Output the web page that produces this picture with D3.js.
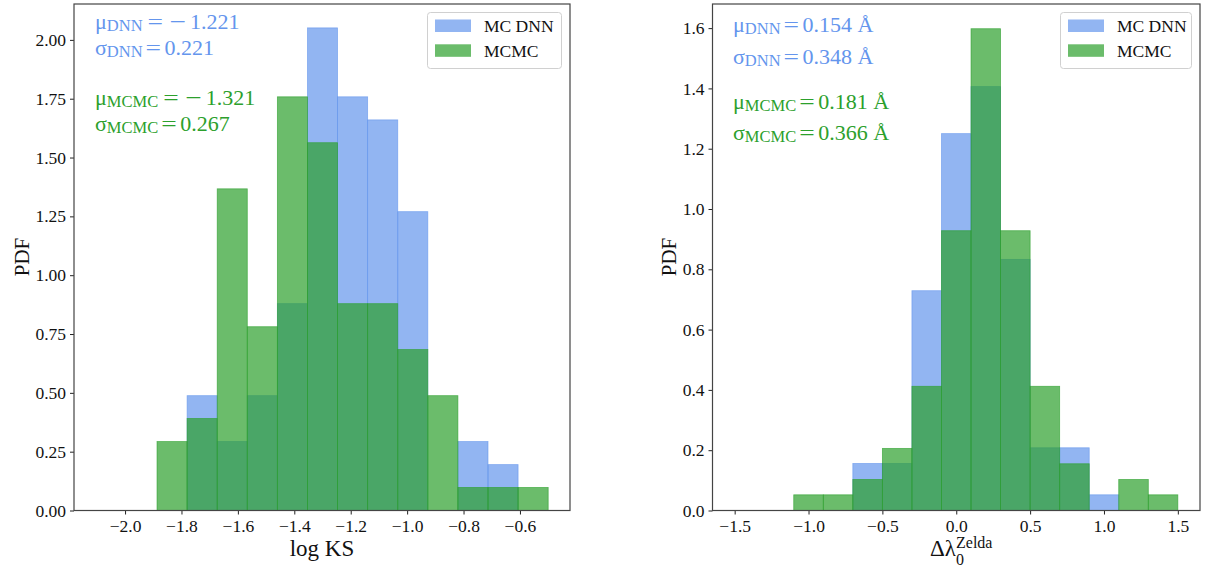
<!DOCTYPE html>
<html><head><meta charset="utf-8">
<script src="https://cdn.jsdelivr.net/npm/d3@7"></script>
<style>
html,body{margin:0;padding:0;background:#fff;}
svg text{font-family:"Liberation Serif","Times New Roman",Times,serif !important;}
</style></head>
<body><svg id="c" width="1211" height="569"></svg>
<script>
// ---------- data ----------
const leftEdges = [-2.1, -1.9933, -1.8867, -1.78, -1.6733, -1.5667, -1.46, -1.3533, -1.2467, -1.14, -1.0333, -0.9267, -0.82, -0.7133, -0.6067, -0.5];
const leftDNN   = [0, 0, 0, 0.488, 0.293, 0.488, 0.879, 2.051, 1.758, 1.660, 1.270, 0, 0.293, 0.195, 0];
const leftMCMC  = [0, 0, 0.293, 0.391, 1.367, 0.781, 1.758, 1.563, 0.879, 0.879, 0.684, 0.488, 0.098, 0.098, 0.098];
const leftXTicks = [-2.0, -1.8, -1.6, -1.4, -1.2, -1.0, -0.8, -0.6];
const leftYTicks = [0, 0.25, 0.5, 0.75, 1.0, 1.25, 1.5, 1.75, 2.0];

const rightEdges = [-1.5, -1.3, -1.1, -0.9, -0.7, -0.5, -0.3, -0.1, 0.1, 0.3, 0.5, 0.7, 0.9, 1.1, 1.3, 1.5];
const rightDNN   = [0, 0, 0, 0, 0.156, 0.156, 0.729, 1.250, 1.406, 0.833, 0.208, 0.208, 0.052, 0, 0];
const rightMCMC  = [0, 0, 0.052, 0.052, 0.103, 0.206, 0.412, 0.928, 1.598, 0.928, 0.412, 0.155, 0, 0.103, 0.052];
const rightXTicks = [-1.5, -1.0, -0.5, 0.0, 0.5, 1.0, 1.5];
const rightYTicks = [0, 0.2, 0.4, 0.6, 0.8, 1.0, 1.2, 1.4, 1.6];

const seriesNames = ["MC DNN", "MCMC"];
// [symbol, subscript, value (negative values get a separate minus), unit]
const leftStats  = [["μ", "DNN", -1.221, ""], ["σ", "DNN", 0.221, ""], ["μ", "MCMC", -1.321, ""], ["σ", "MCMC", 0.267, ""]];
const rightStats = [["μ", "DNN", 0.154, "Å"], ["σ", "DNN", 0.348, "Å"], ["μ", "MCMC", 0.181, "Å"], ["σ", "MCMC", 0.366, "Å"]];

// ---------- styles ----------
const BLUE = "#6495ED", GREEN = "#2ca02c";
const svg = d3.select("#c");

function mathLine(g, x0, y0, s, color) {
  // parts: [text, fontSize, dxGap, baselineOffset, stretchedWidth]
  const parts = [[s[0], 22, 0, 0], [s[1], 16.5, 0, 2]];
  if (s[2] < 0) {
    parts.push(["=", 22, 5, 0, 15.5], ["−", 22, 6.5, 0, 16.5], [Math.abs(s[2]).toFixed(3), 22, 4, 0]);
  } else {
    parts.push(["=", 22, 3, 0, 15.5], [s[2].toFixed(3), 22, 3.5, 0]);
  }
  if (s[3]) parts.push([s[3], 22, 5.5, 0]);
  const t = g.append("text").attr("x", x0).attr("y", y0).attr("fill", color);
  let cur = 0;
  parts.forEach(p => {
    const ts = t.append("tspan").attr("font-size", p[1] + "px").attr("dx", p[2]).attr("dy", p[3] - cur).text(p[0]);
    if (p[4]) ts.attr("textLength", p[4]).attr("lengthAdjust", "spacingAndGlyphs");
    cur = p[3];
  });
}

function panel(cfg) {
  const x = d3.scaleLinear().domain(cfg.xdom).range([cfg.x0, cfg.x1]);
  const y = d3.scaleLinear().domain(cfg.ydom).range([510.5, 4]);
  const g = svg.append("g");

  const drawHist = (vals, color) => {
    g.append("g").selectAll("rect").data(vals).join("rect")
      .attr("x", (d, i) => x(cfg.edges[i]))
      .attr("width", (d, i) => x(cfg.edges[i + 1]) - x(cfg.edges[i]))
      .attr("y", d => y(d))
      .attr("height", d => y(0) - y(d))
      .attr("fill", color).attr("fill-opacity", 0.7)
      .attr("stroke", color).attr("stroke-opacity", 0.7).attr("stroke-width", 0.8);
  };
  drawHist(cfg.dnn, BLUE);
  drawHist(cfg.mcmc, GREEN);

  // axes
  const xa = g.append("g").attr("transform", `translate(0,${y(0)})`)
    .call(d3.axisBottom(x).tickValues(cfg.xticks).tickSize(4).tickPadding(4)
      .tickFormat(d => d3.format(".1f")(d).replace("-", "−")));
  const ya = g.append("g").attr("transform", `translate(${cfg.x0},0)`)
    .call(d3.axisLeft(y).tickValues(cfg.yticks).tickSize(4).tickPadding(4)
      .tickFormat(d3.format(cfg.yfmt)));
  [xa, ya].forEach(a => {
    a.attr("font-family", null);
    a.select(".domain").remove();
    a.selectAll("line").attr("stroke", "#222").attr("stroke-width", 1);
    a.selectAll("text").attr("font-size", "17.5px").attr("fill", "#111");
  });
  xa.selectAll("text").attr("dy", "0.78em");

  // frame
  g.append("rect").attr("x", cfg.x0).attr("y", 4).attr("width", cfg.x1 - cfg.x0).attr("height", y(0) - 4)
    .attr("fill", "none").attr("stroke", "#444").attr("stroke-width", 1.2);

  // y label
  g.append("text").attr("transform", `translate(${cfg.ylabX},257) rotate(-90)`)
    .attr("text-anchor", "middle").attr("font-size", "21px").attr("fill", "#111").text("PDF");

  // x label
  cfg.xlabel(g, (cfg.x0 + cfg.x1) / 2);

  // stats text
  cfg.stats.forEach((s, i) => mathLine(g, cfg.statX, cfg.statY[i], s, s[1] === "DNN" ? BLUE : GREEN));

  // legend
  const lx = cfg.legX, lw = cfg.legW;
  const lg = g.append("g");
  lg.append("rect").attr("x", lx).attr("y", 12.5).attr("width", lw).attr("height", 56).attr("rx", 3)
    .attr("fill", "#fff").attr("fill-opacity", 0.8).attr("stroke", "#d0d0d0").attr("stroke-width", 1);
  [BLUE, GREEN].forEach((c, i) => {
    lg.append("rect").attr("x", lx + 7.5).attr("y", 19.5 + i * 24.8).attr("width", 36).attr("height", 12.5)
      .attr("fill", c).attr("fill-opacity", 0.7);
    lg.append("text").attr("x", lx + 56.5).attr("y", 32 + i * 24.8).attr("font-size", "17.5px")
      .attr("fill", "#111").text(seriesNames[i]);
  });
}

panel({
  xdom: [-2.181, -0.4226], ydom: [0, 2.1525], x0: 74, x1: 570,
  edges: leftEdges, dnn: leftDNN, mcmc: leftMCMC,
  xticks: leftXTicks, yticks: leftYTicks, yfmt: ".2f",
  ylabX: 29, stats: leftStats, statX: 95, statY: [28.5, 54.5, 104.5, 131],
  legX: 427.5, legW: 134,
  xlabel: (g, cx) => g.append("text").attr("x", cx).attr("y", 556).attr("text-anchor", "middle")
    .attr("font-size", "23px").attr("fill", "#111").text("log KS")
});

panel({
  xdom: [-1.65, 1.65], ydom: [0, 1.68], x0: 712.5, x1: 1200,
  edges: rightEdges, dnn: rightDNN, mcmc: rightMCMC,
  xticks: rightXTicks, yticks: rightYTicks, yfmt: ".1f",
  ylabX: 676, stats: rightStats, statX: 733, statY: [32, 63.5, 108.5, 139.5],
  legX: 1060.5, legW: 131,
  xlabel: (g, cx) => {
    const t = g.append("text").attr("x", cx + 5).attr("y", 556).attr("text-anchor", "middle")
      .attr("font-size", "23px").attr("fill", "#111");
    t.append("tspan").text("Δλ");
    t.append("tspan").attr("font-size", "16px").attr("dy", 8.5).text("0");
    t.append("tspan").attr("font-size", "16px").attr("dx", -8).attr("dy", -17).text("Zelda");
  }
});
</script></body></html>
